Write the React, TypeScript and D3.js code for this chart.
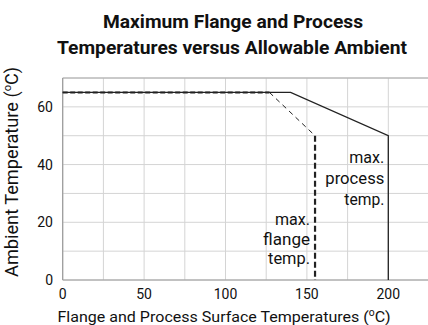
import React from "react";
import * as d3 from "d3";

const xTicks = [0, 50, 100, 150, 200];
const yTicks = [0, 20, 40, 60];
const xGrid = [0, 25, 50, 75, 100, 125, 150, 175, 200, 225];
const yGrid = [0, 10, 20, 30, 40, 50, 60, 70];
const processX = [0, 140, 200, 200];
const processY = [65, 65, 50, 0];
const flangeX = [0, 127, 155, 155];
const flangeY = [65, 65, 50, 0];
const flangeSegWidth = [2, 1, 2.2];
const flangeSegDash = ["5,2.5", "5,4", "6,3"];
const processLabel = ["max.", "process", "temp."];
const processLabelW = [35, 59, 40];
const flangeLabel = ["max.", "flange", "temp."];
const flangeLabelW = [35, 47, 42];

const W = 428, H = 325;
const L = 62.7, R = 429, T = 78, B = 280;
const FONT = "Roboto, 'Liberation Sans', sans-serif";

export default function App() {
  const x = d3.scaleLinear().domain([0, 225]).range([L, R]);
  const y = d3.scaleLinear().domain([0, 70]).range([B, T]);
  const line = d3.line<number>().x((_, i) => x(processX[i])).y((d) => y(d));
  const procPath = line(processY) || "";
  return (
    <svg width={W} height={H} style={{ position: "absolute", left: 0, top: 0, background: "#fff" }} fontFamily={FONT}>
      <text x={233} y={28.3} textAnchor="middle" fontWeight="bold" fontSize={18} fill="#111" textLength={260} lengthAdjust="spacingAndGlyphs">
        Maximum Flange and Process
      </text>
      <text x={232} y={54.3} textAnchor="middle" fontWeight="bold" fontSize={18} fill="#111" textLength={350} lengthAdjust="spacingAndGlyphs">
        Temperatures versus Allowable Ambient
      </text>
      {xGrid.map((v) => (
        <line key={"xg" + v} x1={x(v)} x2={x(v)} y1={T} y2={B} stroke="#d4d4d4" strokeWidth={1} />
      ))}
      {yGrid.map((v) => (
        <line key={"yg" + v} x1={L} x2={R} y1={y(v)} y2={y(v)} stroke="#d4d4d4" strokeWidth={1} />
      ))}
      <line x1={L} x2={R} y1={T} y2={T} stroke="#aaa" strokeWidth={1} />
      <line x1={L} x2={L} y1={T} y2={B} stroke="#999" strokeWidth={1.2} />
      <line x1={L} x2={R} y1={B} y2={B} stroke="#999" strokeWidth={1.2} />
      <path d={procPath} fill="none" stroke="#222" strokeWidth={1.3} />
      {flangeX.slice(0, -1).map((_, i) => (
        <line
          key={"fs" + i}
          x1={x(flangeX[i])}
          y1={y(flangeY[i])}
          x2={x(flangeX[i + 1])}
          y2={y(flangeY[i + 1])}
          stroke="#222"
          strokeWidth={flangeSegWidth[i]}
          strokeDasharray={flangeSegDash[i]}
        />
      ))}
      {yTicks.map((v) => (
        <text key={"yt" + v} x={53} y={y(v) + 5} textAnchor="end" fontSize={14} fill="#111">
          {v}
        </text>
      ))}
      {xTicks.map((v) => (
        <text key={"xt" + v} x={x(v)} y={299} textAnchor="middle" fontSize={14} fill="#111">
          {v}
        </text>
      ))}
      {processLabel.map((s, i) => (
        <text key={"pl" + i} x={x(200) - 4} y={163 + i * 21} textAnchor="end" fontSize={17} fill="#111">
          <tspan textLength={processLabelW[i]} lengthAdjust="spacingAndGlyphs">{s}</tspan>
        </text>
      ))}
      {flangeLabel.map((s, i) => (
        <text key={"fl" + i} x={x(155) - 5} y={225 + i * 19.5} textAnchor="end" fontSize={17} fill="#111">
          <tspan textLength={flangeLabelW[i]} lengthAdjust="spacingAndGlyphs">{s}</tspan>
        </text>
      ))}
      <text x={224} y={321.5} textAnchor="middle" fontSize={15.5} fill="#111" textLength={333} lengthAdjust="spacingAndGlyphs">
        Flange and Process Surface Temperatures (
        <tspan dy={-6} fontSize={10}>o</tspan>
        <tspan dy={6}>C)</tspan>
      </text>
      <text transform={`translate(18,172) rotate(-90)`} textAnchor="middle" fontSize={18} fill="#111" textLength={210} lengthAdjust="spacingAndGlyphs">
        Ambient Temperature (
        <tspan dy={-7} fontSize={11}>o</tspan>
        <tspan dy={7}>C)</tspan>
      </text>
    </svg>
  );
}
